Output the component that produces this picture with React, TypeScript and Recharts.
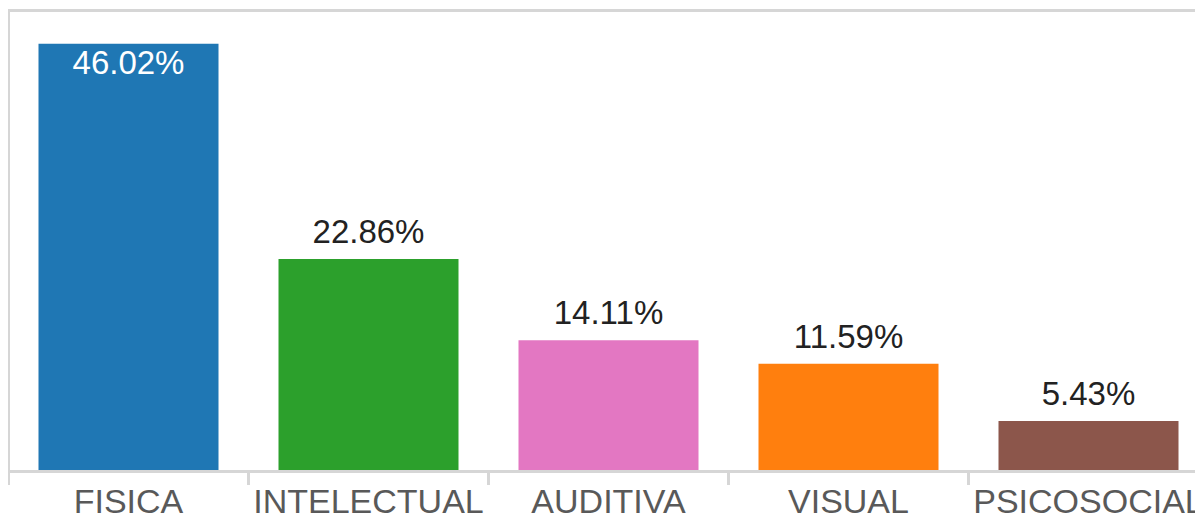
import React from "react";
import { BarChart, Bar, XAxis, YAxis, Cell, LabelList, ReferenceLine } from "recharts";

const categories = ["FISICA", "INTELECTUAL", "AUDITIVA", "VISUAL", "PSICOSOCIAL"];
const values = [46.02, 22.86, 14.11, 11.59, 5.43];
const colors = ["#1f77b4", "#2ca02c", "#e377c2", "#ff7f0e", "#8c564b"];
const yMax = 49.6;

const data = categories.map((name, i) => ({ name, value: values[i] }));

const CHART_W = 1210;
const CHART_H = 516;
const MARGIN = { top: 10.5, right: 1.5, bottom: 4.5, left: 6.5 };
const Y_AXIS_W = 2;
const X_AXIS_H = 40;
const plotW = CHART_W - MARGIN.left - Y_AXIS_W - MARGIN.right;
const bandW = plotW / categories.length;
const FRAME = "#d6d6d6";
const FONT = "'Liberation Sans', Arial, sans-serif";

const CategoryTick = (props: any) => {
  const { x, y, payload } = props;
  return (
    <g>
      <line x1={x - bandW / 2} x2={x - bandW / 2} y1={y} y2={y + 13.5} stroke={FRAME} strokeWidth={3} />
      <text x={x} y={y + 41} textAnchor="middle" fill="#595959" fontSize={34} fontFamily={FONT}>
        {payload.value}
      </text>
    </g>
  );
};

const ValueLabel = (props: any) => {
  const { x, y, width, value, index } = props;
  const inside = index === 0;
  return (
    <text
      x={x + width / 2}
      y={inside ? y + 30 : y - 16}
      textAnchor="middle"
      fill={inside ? "#ffffff" : "#222222"}
      fontSize={33}
      fontFamily={FONT}
    >
      {value.toFixed(2) + "%"}
    </text>
  );
};

export default function App() {
  return (
    <div
      style={{
        position: "relative",
        marginLeft: -8,
        marginTop: -8,
        width: 1203,
        height: CHART_H,
        overflow: "hidden",
        background: "#fff",
      }}
    >
      <BarChart width={CHART_W} height={CHART_H} data={data} margin={MARGIN} barCategoryGap="12.5%">
        <XAxis
          dataKey="name"
          height={X_AXIS_H}
          axisLine={{ stroke: FRAME, strokeWidth: 3 }}
          tickLine={false}
          tickSize={0}
          tickMargin={0}
          tick={<CategoryTick />}
          interval={0}
        />
        <YAxis
          width={Y_AXIS_W}
          domain={[0, yMax]}
          tick={false}
          tickLine={false}
          axisLine={{ stroke: FRAME, strokeWidth: 3 }}
        />
        <ReferenceLine y={yMax} stroke={FRAME} strokeWidth={3} />
        <Bar dataKey="value" isAnimationActive={false}>
          {data.map((d, i) => (
            <Cell key={d.name} fill={colors[i]} />
          ))}
          <LabelList dataKey="value" content={<ValueLabel />} />
        </Bar>
      </BarChart>
      <div
        style={{
          position: "absolute",
          left: 7,
          top: 9,
          width: 3,
          height: 476,
          background: FRAME,
        }}
      />
    </div>
  );
}
